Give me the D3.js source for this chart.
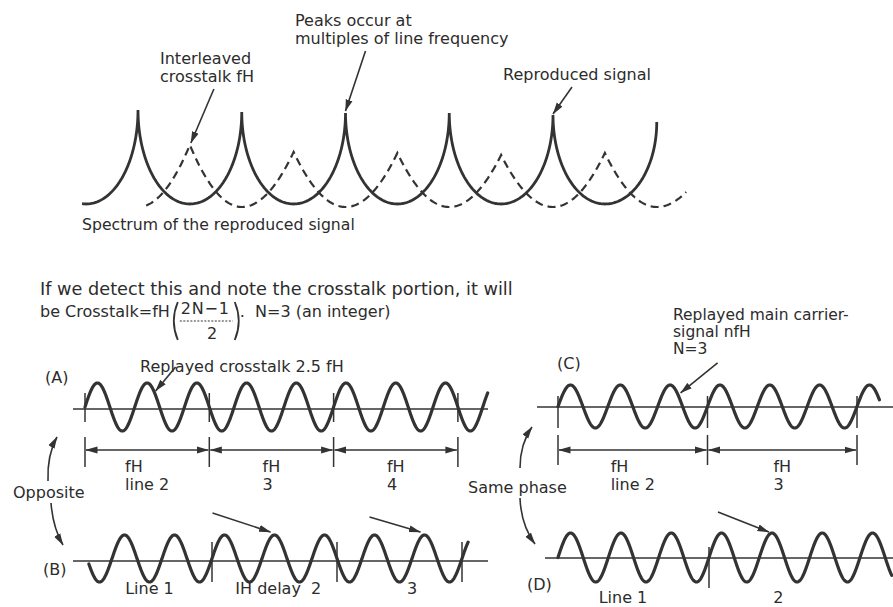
<!DOCTYPE html>
<html><head><meta charset="utf-8">
<script src="https://cdn.jsdelivr.net/npm/d3@7"></script>
<style>
body{margin:0;background:#fff}
svg{display:block;background:#fff}
text{font-family:"DejaVu Sans",sans-serif;fill:#2c2c2c}
</style>
</head><body>
<svg id="c" width="893" height="607"></svg>
<script>
// ---------- DATA ----------
// Spectrum of the reproduced signal (positions in multiples of fH, relative amplitude)
const mainHarmonics   = [1, 2, 3, 4, 5];
const mainPeakAmp     = [1.00, 0.98, 0.97, 0.97, 0.95];
const mainEdgeAmp     = [1.00, 0.88];        // virtual neighbours at 0 and 6
const mainTroughAmp   = 0.06;
const mainExtent      = [0.46, 6.0];
const crossPos        = [1.5, 2.5, 3.5, 4.5, 5.5];
const crossPeakAmp    = [0.65, 0.58, 0.57, 0.55, 0.57];
const crossEdgeAmp    = [0.65, 0.50];        // virtual neighbours at 0.5 and 6.5
const crossTroughAmp  = 0.03;
const crossExtent     = [1.07, 6.29];

// Replayed waveforms (time in line periods H)
const panelNames    = ["(A)", "(B)", "(C)", "(D)"];
const cyclesPerLine = [2.5, 2.5, 3, 3];
const phaseSign     = [1, -1, 1, 1];
const waveSpan      = [[0, 3.24], [0.015, 3.05], [0, 2.15], [0, 2.21]];
const waveTicks     = [[0, 1, 2, 3], [1, 2, 3], [0, 1, 2], [1]];
const dimTicksA     = [0, 1, 2, 3];
const dimTicksC     = [0, 1, 2];
const dimLabelsA    = [["fH", "line 2"], ["fH", "3"], ["fH", "4"]];
const dimLabelsC    = [["fH", "line 2"], ["fH", "3"]];
const lineLabelsB   = ["Line 1", "IH delay\u00a0\u00a02", "3"];
const lineLabelPosB = [0.5, 1.53, 2.6];
const lineLabelsD   = ["Line 1", "2"];
const lineLabelPosD = [0.43, 1.46];

// ---------- LAYOUT ----------
const ink = "#333";
const svg = d3.select("#c");
const defs = svg.append("defs");
defs.append("marker").attr("id", "ah")
  .attr("viewBox", "0 0 12 8").attr("refX", 11.5).attr("refY", 4)
  .attr("markerWidth", 12).attr("markerHeight", 8)
  .attr("markerUnits", "userSpaceOnUse").attr("orient", "auto-start-reverse")
  .append("path").attr("d", "M0,0.5 L12,4 L0,7.5 Z").attr("fill", ink);

function txt(x, y, s, size = 16, anchor = "start", ls = 0) {
  return svg.append("text").attr("x", x).attr("y", y).attr("font-size", size)
    .attr("text-anchor", anchor).attr("letter-spacing", ls).text(s);
}
function arrow(x1, y1, x2, y2, w = 1.6) {
  svg.append("line").attr("x1", x1).attr("y1", y1).attr("x2", x2).attr("y2", y2)
    .attr("stroke", ink).attr("stroke-width", w).attr("marker-end", "url(#ah)");
}

// ---------- SPECTRUM ----------
const xS = d3.scaleLinear().domain([1, 5]).range([138, 553]);
const yS = d3.scaleLinear().domain([0, 1]).range([210, 110]);
const specLine = d3.line().x(d => xS(d[0])).y(d => yS(d[1]));

function spectrum(pos, amps, edge, trough, extent, shape) {
  const P = [pos[0] - 1, ...pos, pos[pos.length - 1] + 1];
  const A = [edge[0], ...amps, edge[1]];
  const pts = [];
  for (let k = 0; k < P.length - 1; k++) {
    const mid = (P[k] + P[k + 1]) / 2, half = (P[k + 1] - P[k]) / 2;
    const N = 120;
    for (let j = 0; j <= N; j++) {
      const u = -Math.cos(Math.PI * j / N);
      const x = mid + u * half;
      if (x < extent[0] || x > extent[1]) continue;
      const pk = u < 0 ? A[k] : A[k + 1];
      pts.push([x, trough + (pk - trough) * shape(Math.abs(u))]);
    }
  }
  return pts;
}
const mainPts = spectrum(mainHarmonics, mainPeakAmp, mainEdgeAmp, mainTroughAmp, mainExtent,
  u => 1 - Math.sqrt(Math.max(0, 1 - u * u)));
const crossPts = spectrum(crossPos, crossPeakAmp, crossEdgeAmp, crossTroughAmp, crossExtent,
  u => u * u);

svg.append("path").attr("d", specLine(crossPts)).attr("fill", "none")
  .attr("stroke", ink).attr("stroke-width", 2.2).attr("stroke-dasharray", "8,5");
svg.append("path").attr("d", specLine(mainPts)).attr("fill", "none")
  .attr("stroke", ink).attr("stroke-width", 2.8).attr("stroke-linejoin", "miter");

// spectrum annotations
txt(160, 64, "Interleaved", 16);
txt(160, 82, "crosstalk fH", 16);
{ const tx = xS(crossPos[0]), ty = yS(crossPeakAmp[0]); arrow(tx + 24, ty - 56, tx + 1, ty - 2); }
txt(295, 26, "Peaks occur at", 16);
txt(295, 44, "multiples of line frequency", 16);
{ const tx = xS(mainHarmonics[2]), ty = yS(mainPeakAmp[2]); arrow(tx + 20, ty - 62, tx, ty - 2); }
txt(503, 80, "Reproduced signal", 16);
{ const tx = xS(mainHarmonics[4]), ty = yS(mainPeakAmp[4]); arrow(tx + 19, ty - 28, tx, ty - 1); }
txt(82, 230, "Spectrum of the reproduced signal", 15.7);

// ---------- FORMULA TEXT ----------
txt(40, 295, "If we detect this and note the crosstalk portion, it will", 17.7);
{
  const fs = 16;
  const t1 = txt(40, 317, "be Crosstalk=fH", fs);
  let x = 40 + t1.node().getComputedTextLength() + 1;
  svg.append("path").attr("d", `M${x + 7},302 Q${x - 1},321 ${x + 7},340`)
    .attr("fill", "none").attr("stroke", ink).attr("stroke-width", 1.8);
  const num = txt(x + 10, 314, "2N\u22121", fs, "start", 0.8);
  const nw = num.node().getComputedTextLength();
  svg.append("line").attr("x1", x + 9).attr("x2", x + 13 + nw).attr("y1", 321).attr("y2", 321)
    .attr("stroke", ink).attr("stroke-width", 1).attr("stroke-dasharray", "2,1.5");
  txt(x + 11 + nw * 0.62, 339, "2", fs, "middle");
  const xr = x + 15 + nw;
  svg.append("path").attr("d", `M${xr},302 Q${xr + 8},321 ${xr},340`)
    .attr("fill", "none").attr("stroke", ink).attr("stroke-width", 1.8);
  txt(xr + 5, 317, ".\u00a0\u00a0N=3 (an integer)", fs);
}

// ---------- WAVE PANELS ----------
const panels = [
  { x0: 85, lw: 124.3, cy: 407, amp: 24, axisY: 409, axis: [73, 488], tick: [393, 422] },
  { x0: 87, lw: 125,   cy: 558.5, amp: 23.5, axisY: 561, axis: [73, 488], tick: [542, 582] },
  { x0: 558, lw: 149.5, cy: 406.5, amp: 21.5, axisY: 407, axis: [537, 893], tick: [396, 428] },
  { x0: 558, lw: 151,  cy: 557.5, amp: 24.5, axisY: 558, axis: [545, 893], tick: [547, 588] }
];
panels.forEach((p, i) => {
  p.x = d3.scaleLinear().domain([0, 1]).range([p.x0, p.x0 + p.lw]);
  p.y = d3.scaleLinear().domain([-1, 1]).range([p.cy + p.amp, p.cy - p.amp]);
  p.f = t => phaseSign[i] * Math.sin(2 * Math.PI * cyclesPerLine[i] * t);
  svg.append("line").attr("x1", p.axis[0]).attr("x2", p.axis[1])
    .attr("y1", p.axisY).attr("y2", p.axisY).attr("stroke", ink).attr("stroke-width", 1.6);
  svg.selectAll(null).data(waveTicks[i]).enter().append("line")
    .attr("x1", d => p.x(d)).attr("x2", d => p.x(d))
    .attr("y1", p.tick[0]).attr("y2", p.tick[1])
    .attr("stroke", ink).attr("stroke-width", 1.5);
  const pts = d3.range(waveSpan[i][0], waveSpan[i][1] + 1e-9, 0.002).map(t => [t, p.f(t)]);
  svg.append("path").attr("d", d3.line().x(d => p.x(d[0])).y(d => p.y(d[1]))(pts))
    .attr("fill", "none").attr("stroke", ink).attr("stroke-width", 3.2).attr("stroke-linecap", "round");
});
const [pA, pB, pC, pD] = panels;

// panel labels
txt(45, 383, panelNames[0], 16);
txt(43, 575, panelNames[1], 16);
txt(557, 369, panelNames[2], 16);
txt(527, 590, panelNames[3], 16);

// dimension lines
function dims(p, ticks, labels, y, ty) {
  ticks.forEach(t => svg.append("line").attr("x1", p.x(t)).attr("x2", p.x(t))
    .attr("y1", ty[0]).attr("y2", ty[1]).attr("stroke", ink).attr("stroke-width", 1.5));
  for (let k = 0; k < ticks.length - 1; k++) {
    svg.append("line").attr("x1", p.x(ticks[k]) + 1).attr("x2", p.x(ticks[k + 1]) - 1)
      .attr("y1", y).attr("y2", y).attr("stroke", ink).attr("stroke-width", 1.5)
      .attr("marker-start", "url(#ah)").attr("marker-end", "url(#ah)");
    const c = p.x((ticks[k] + ticks[k + 1]) / 2);
    const a = txt(0, y + 22, labels[k][0], 16);
    const b = txt(0, y + 40, labels[k][1], 16);
    const w = Math.max(a.node().getComputedTextLength(), b.node().getComputedTextLength());
    a.attr("x", c - w / 2); b.attr("x", c - w / 2);
  }
}
dims(pA, dimTicksA, dimLabelsA, 450, [437, 467]);
dims(pC, dimTicksC, dimLabelsC, 450, [435, 465]);

// line labels under B and D
lineLabelsB.forEach((s, k) => txt(pB.x(lineLabelPosB[k]), 594, s, 16, "middle"));
lineLabelsD.forEach((s, k) => txt(pD.x(lineLabelPosD[k]), 603, s, 16, "middle"));

// wave annotations
txt(140, 372, "Replayed crosstalk 2.5 fH", 16);
{ const t = 0.56, x = pA.x(t), y = pA.y(pA.f(t)); arrow(x + 21, y - 26, x + 1, y - 2); }
txt(673, 320, "Replayed main carrier-", 15.5);
txt(673, 337, "signal nfH", 15.5);
txt(673, 354, "N=3", 15.5);
{ const t = 0.8, x = pC.x(t), y = pC.y(pC.f(t)); arrow(x + 40, y - 31, x + 3, y - 1); }
{ const t = 1.5, x = pB.x(t), y = pB.y(1); arrow(x - 62, y - 22, x - 4, y - 3); }
{ const t = 2.7, x = pB.x(t), y = pB.y(1); arrow(x - 55, y - 18, x - 4, y - 3); }
{ const t = 1.417, x = pD.x(t), y = pD.y(1); arrow(x - 54, y - 21, x - 3, y - 1); }

// phase comparison arrows
function curved(d) {
  svg.append("path").attr("d", d).attr("fill", "none").attr("stroke", ink)
    .attr("stroke-width", 1.6).attr("marker-end", "url(#ah)");
}
txt(13, 498, "Opposite", 16);
curved("M48,481 Q47,455 57,437");
curved("M51,503 Q53,528 63,545");
txt(468, 493, "Same phase", 16);
curved("M520,468 Q520,444 532,427");
curved("M520,498 Q521,525 535,544");
</script>
</body></html>
